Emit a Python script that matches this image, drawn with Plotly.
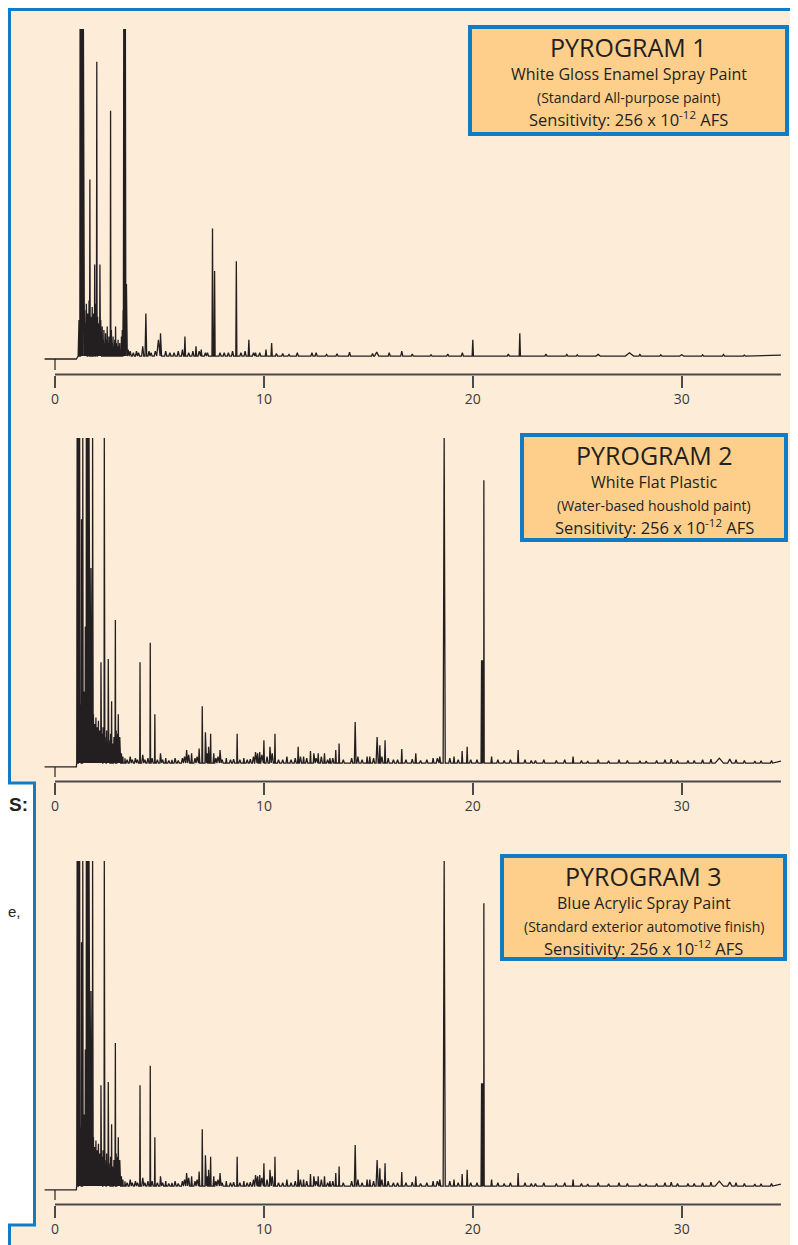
import plotly.graph_objects as go

# Page is drawn with the browser's 8px body margin, so the figure is 790x1237
# and every reference pixel position is shifted by OFF.
W, H = 790, 1237
OFF = 8

# ---------------- DATA ----------------
tick_vals = [0, 10, 20, 30]
tick_text = ["0", "10", "20", "30"]

# Pyrogram 1 - main peaks: time (min), height (% of full scale), half width (min)
p1_time = [1.20, 1.24, 1.28, 1.32, 1.36, 1.67, 1.90, 2.00, 2.15, 2.66, 3.29, 3.33, 3.37, 3.42, 4.35, 4.95, 5.05,
           6.22, 6.75, 7.00, 7.54, 7.64, 8.68, 9.28, 9.60, 10.10, 10.37, 11.6, 12.3, 12.5, 14.1,
           15.4, 16.0, 16.6, 17.1, 19.5, 20.0, 21.7, 22.25, 23.5, 26.0, 27.5, 30.0]
p1_height = [100, 100, 100, 100, 100, 54, 28, 90, 28, 75, 100, 100, 100, 22, 13, 5, 7,
             6, 3, 2, 39, 26, 29, 5, 1, 2, 4, 1, 1, 1, 1.2,
             1.2, 1, 1.5, 0.6, 1, 5, 0.6, 7, 0.6, 0.5, 1, 0.4]
p1_width = [0.02, 0.02, 0.02, 0.02, 0.02, 0.015, 0.015, 0.015, 0.015, 0.015, 0.02, 0.02, 0.02, 0.04, 0.04, 0.08, 0.05,
            0.03, 0.03, 0.03, 0.025, 0.025, 0.025, 0.03, 0.04, 0.03, 0.03, 0.05, 0.05, 0.05, 0.05,
            0.1, 0.05, 0.05, 0.05, 0.05, 0.03, 0.05, 0.03, 0.05, 0.1, 0.2, 0.1]
# Pyrogram 1 - noise / minor spikes: time, height
p1_noise_time = [1.12, 1.15, 1.19, 1.42, 1.46, 1.50, 1.53, 1.57, 1.60, 1.63, 1.71, 1.74, 1.78, 1.81,
                 1.85, 1.88, 1.94, 1.97, 2.04, 2.07, 2.10, 2.19, 2.22, 2.26, 2.30, 2.34, 2.38, 2.42,
                 2.46, 2.50, 2.54, 2.58, 2.62, 2.70, 2.74, 2.78, 2.82, 2.86, 2.90, 2.94, 2.98, 3.02,
                 3.06, 3.10, 3.14, 3.18, 3.22, 3.26, 3.50, 3.60, 3.75, 3.90, 4.00, 4.20, 4.50, 4.60,
                 4.80, 5.30, 5.50, 5.70, 5.90, 6.10, 6.40, 6.60, 6.90, 7.20, 7.30, 7.90, 8.10, 8.30,
                 8.50, 8.90, 9.10, 9.50, 9.80, 10.6, 10.9, 11.2, 13.0, 13.5, 15.2, 18.0, 18.8, 24.5,
                 25.0, 28.0, 29.0, 31.0, 32.0, 33.0]
p1_noise_height = [6, 11, 8, 14, 10, 16, 9, 13, 7, 17, 12, 8, 15, 10,
                   13, 7, 16, 9, 12, 6, 10, 11, 6, 9, 5, 8, 4, 7,
                   5, 9, 4, 6, 5, 8, 4, 6, 3, 5, 9, 4, 3, 5,
                   3, 4, 2, 6, 8, 14, 2, 1.5, 1, 1.5, 1, 3, 1.5, 1,
                   1.5, 1.5, 1, 1, 1.5, 2, 1, 1.5, 1.5, 1, 1, 1, 1, 1,
                   1.5, 1, 1.5, 1, 1, 0.8, 0.8, 0.5, 0.5, 0.7, 0.8, 0.4, 0.6, 0.5,
                   0.4, 0.5, 0.4, 0.4, 0.5, 0.3]
p1_pre_level = -0.9
p1_end_level = 0.3

# Pyrogram 2 - main peaks
p2_time = [1.06, 1.10, 1.14, 1.18, 1.27, 1.33, 1.45, 1.50, 1.54, 1.57, 1.63, 1.72, 1.80, 2.20, 2.36, 2.55,
           2.71, 2.89, 3.03, 3.10, 4.07, 4.56, 4.78, 5.05, 5.30, 5.60, 6.30, 6.54, 6.90, 7.05,
           7.20, 7.45, 7.60, 7.90, 8.20, 8.72, 9.04, 9.60, 9.70, 9.80, 10.0, 10.29, 10.53, 11.1,
           11.64, 11.9, 12.23, 12.39, 12.6, 12.9, 13.16, 13.44, 13.6, 14.37, 14.94, 15.07, 15.42, 15.55,
           15.8, 16.6, 17.27, 18.1, 18.42, 18.63, 19.1, 19.49, 19.73, 20.42, 20.46, 20.50, 20.53, 20.9, 22.17,
           23.0, 24.8, 25.5, 27.0, 28.3, 29.5, 30.3, 31.8, 32.3, 33.5]
p2_height = [100, 100, 100, 100, 75, 100, 42, 100, 100, 100, 100, 60, 100, 31, 100, 32,
             19, 44, 15, 8, 31, 37, 15, 3, 1.5, 1, 4, 3, 4.5, 17.5,
             9.5, 9, 3, 4, 1.5, 9, 1.5, 3.4, 3, 3.4, 7, 5, 9, 2,
             5, 2, 3.7, 3, 3, 3, 1.5, 4, 6, 12.6, 2, 2, 8, 5.5,
             7, 4.3, 3, 1.5, 2, 100, 2, 3.7, 5, 31.6, 31.6, 31.6, 87, 2, 4,
             0.8, 2, 0.6, 1, 0.6, 1.2, 0.8, 1.5, 1.2, 0.6]
p2_width = [0.02, 0.02, 0.02, 0.02, 0.01, 0.012, 0.012, 0.015, 0.015, 0.015, 0.012, 0.01, 0.012, 0.012, 0.012, 0.012,
            0.012, 0.012, 0.015, 0.02, 0.015, 0.015, 0.015, 0.03, 0.03, 0.03, 0.04, 0.03, 0.03, 0.02,
            0.02, 0.02, 0.03, 0.03, 0.03, 0.02, 0.03, 0.04, 0.03, 0.03, 0.025, 0.025, 0.02, 0.04,
            0.025, 0.03, 0.025, 0.025, 0.025, 0.03, 0.03, 0.025, 0.02, 0.04, 0.03, 0.03, 0.05, 0.03,
            0.025, 0.025, 0.03, 0.04, 0.04, 0.05, 0.03, 0.025, 0.025, 0.025, 0.025, 0.025, 0.015, 0.03, 0.025,
            0.05, 0.03, 0.05, 0.05, 0.05, 0.05, 0.05, 0.2, 0.1, 0.05]
p2_noise_time = [1.08, 1.12, 1.15, 1.21, 1.24, 1.30, 1.36, 1.39, 1.42, 1.48, 1.54, 1.60, 1.66, 1.69, 1.75,
                 1.77, 1.84, 1.87, 1.90, 1.93, 1.96, 1.99, 2.02, 2.05, 2.08, 2.11, 2.14, 2.17, 2.24,
                 2.27, 2.30, 2.33, 2.40, 2.43, 2.47, 2.50, 2.59, 2.62, 2.66, 2.75, 2.78, 2.82, 2.86,
                 2.93, 2.97, 3.00, 3.06, 3.13, 3.18, 3.25, 3.35, 3.45, 3.60, 3.70, 3.85, 3.95, 4.20,
                 4.30, 4.45, 4.65, 4.90, 5.15, 5.45, 5.75, 5.90, 6.10, 6.20, 6.40, 6.70, 6.80, 7.30,
                 7.35, 7.70, 7.80, 8.00, 8.40, 8.55, 8.85, 9.20, 9.35, 9.50, 9.90, 10.15, 10.4, 10.7,
                 10.9, 11.3, 11.5, 11.75, 12.05, 12.5, 12.75, 13.05, 13.3, 13.8, 14.2, 14.5, 14.7, 15.25,
                 15.65, 15.95, 16.2, 16.4, 16.8, 17.1, 17.5, 17.8, 18.3, 18.9, 19.3, 19.9, 20.2, 21.2,
                 21.5, 21.8, 22.5, 22.8, 23.4, 24.0, 24.4, 25.2, 26.0, 26.5, 27.4, 28.0, 28.8, 29.2,
                 29.8, 30.6, 31.0, 31.4, 32.6, 33.0, 33.8, 34.3]
p2_noise_height = [14, 9, 20, 12, 18, 10, 15, 22, 12, 17, 11, 14, 18, 9, 13,
                   8, 15, 9, 12, 7, 14, 8, 11, 6, 13, 7, 10, 5, 9,
                   5, 11, 4, 8, 5, 10, 4, 7, 4, 9, 6, 3, 8, 5,
                   10, 6, 9, 7, 4, 3, 2, 1.5, 1, 2, 1, 1.5, 1, 2.5,
                   1, 1.5, 1.5, 1, 1, 0.8, 1.5, 0.8, 1.5, 2, 2.5, 1.5, 2, 3,
                   5, 1.5, 2, 1, 1, 1.2, 1, 1, 1.2, 2, 2.5, 2, 3, 1,
                   1, 1, 1.5, 2, 1.5, 1.5, 2, 1, 1.5, 1, 1.5, 2, 1, 1.5,
                   2, 1.5, 1, 1, 1, 1.2, 0.8, 1, 1.5, 1.5, 1, 1, 1, 1,
                   0.8, 1, 1, 0.8, 1, 0.8, 1, 0.8, 1, 0.7, 0.8, 0.7, 0.8, 1,
                   0.8, 0.8, 1, 1.2, 1, 0.8, 0.7, 0.8]
p2_pre_level = -1.2
p2_end_level = 0.6

# Pyrogram 3 - trace is the same as pyrogram 2 in the source
p3_time, p3_height, p3_width = p2_time, p2_height, p2_width
p3_noise_time, p3_noise_height = p2_noise_time, p2_noise_height
p3_pre_level, p3_end_level = p2_pre_level, p2_end_level

# Box texts
box_titles = ["PYROGRAM 1", "PYROGRAM 2", "PYROGRAM 3"]
box_names = ["White Gloss Enamel Spray Paint", "White Flat Plastic", "Blue Acrylic Spray Paint"]
box_notes = ["(Standard All-purpose paint)", "(Water-based houshold paint)",
             "(Standard exterior automotive finish)"]
box_sens = "Sensitivity: 256 x 10<sup>-12</sup> AFS"

# ---------------- STYLE / LAYOUT ----------------
BG = "#fdedd8"
BOXFILL = "#fdcf8b"
BLUE = "#117cc3"
INK = "#231f20"
FONT = "Open Sans"


def fx(p):
    return (p - OFF) / W


def fy(p):
    return 1 - (p - OFF) / H


def build(times, heights, widths, ntimes, nheights, pre, end):
    pts = []
    for t, h, w in zip(times, heights, widths):
        pts += [(t - w, 0.0), (t, h), (t + w, 0.0)]
    for t, h in zip(ntimes, nheights):
        w = 0.012 if t < 3.4 else 0.05
        pts += [(t - w, 0.0), (t, h), (t + w, 0.0)]
    pts.sort(key=lambda p: p[0])
    xs = [-0.5, 1.02] + [p[0] for p in pts] + [34.75]
    ys = [pre, pre] + [p[1] for p in pts] + [end]
    return xs, ys


panels = [
    dict(data=(p1_time, p1_height, p1_width, p1_noise_time, p1_noise_height, p1_pre_level, p1_end_level),
         base=356, top=28, axis=374.5, box=(468, 25, 789, 136)),
    dict(data=(p2_time, p2_height, p2_width, p2_noise_time, p2_noise_height, p2_pre_level, p2_end_level),
         base=763, top=437, axis=781.5, box=(520, 433, 788, 542)),
    dict(data=(p3_time, p3_height, p3_width, p3_noise_time, p3_noise_height, p3_pre_level, p3_end_level),
         base=1186, top=860, axis=1204.5, box=(500, 854, 787, 961)),
]

fig = go.Figure()
shapes = []
annotations = []
layout = {}
xl, xr = 40, 782
t_per_px = 1 / 20.89
xrange = [-(55 - xl) * t_per_px, (xr - 55) * t_per_px]

for i, pn in enumerate(panels):
    sfx = "" if i == 0 else str(i + 1)
    xs, ys = build(*pn["data"])
    fig.add_trace(go.Scatter(x=xs, y=ys, mode="lines", xaxis="x" + sfx, yaxis="y" + sfx,
                             line=dict(color=INK, width=1.3), hoverinfo="skip", showlegend=False))
    scale = (pn["base"] - pn["top"]) / 100.0
    ymin = -(pn["axis"] - pn["base"]) / scale
    layout["xaxis" + sfx] = dict(domain=[fx(xl), fx(xr)], range=xrange, anchor="y" + sfx,
                                 showgrid=False, zeroline=False, showline=False,
                                 ticks="outside", ticklen=12, tickwidth=1.5, tickcolor="#4a4a4a",
                                 tickvals=tick_vals, ticktext=tick_text,
                                 tickfont=dict(family=FONT, size=14, color="#3a3a3a"))
    layout["yaxis" + sfx] = dict(domain=[fy(pn["axis"]), fy(pn["top"])], range=[ymin, 100.3],
                                 anchor="x" + sfx, visible=False)
    xref, yref = "x" + sfx, "y" + sfx
    # axis line
    shapes.append(dict(type="line", xref=xref, yref=yref + " domain", x0=0, x1=34.75, y0=0, y1=0,
                       line=dict(color="#4a4a4a", width=2)))
    # injection marker
    shapes.append(dict(type="line", xref=xref, yref=yref, x0=0, x1=0, y0=pn["data"][5], y1=-4.3,
                       line=dict(color=INK, width=1.2)))
    # legend box
    x0, y0, x1, y1 = pn["box"]
    shapes.append(dict(type="rect", xref="paper", yref="paper", x0=fx(x0 + 2), x1=fx(x1 - 2),
                       y0=fy(y1 - 2), y1=fy(y0 + 2), fillcolor=BOXFILL,
                       line=dict(color=BLUE, width=4), layer="above"))
    cx = (x0 + x1) / 2
    lines = [(box_titles[i], 25, 22), (box_names[i], 16, 48.5), (box_notes[i], 14, 72.5), (box_sens, 16.5, 93.5)]
    for txt, size, dy in lines:
        annotations.append(dict(text=txt, x=fx(cx), y=fy(y0 + dy), xref="paper", yref="paper",
                                xanchor="center", yanchor="middle", showarrow=False,
                                font=dict(family=FONT, size=size, color=INK)))

# page border (kept just inside the visible page area)
shapes.append(dict(type="line", xref="paper", yref="paper", x0=fx(8), x1=fx(800), y0=fy(9.5), y1=fy(9.5),
                   line=dict(color=BLUE, width=3)))
shapes.append(dict(type="line", xref="paper", yref="paper", x0=fx(9.5), x1=fx(9.5), y0=fy(8), y1=fy(1250),
                   line=dict(color=BLUE, width=3)))
# side panel
shapes.append(dict(type="rect", xref="paper", yref="paper", x0=fx(-10), x1=fx(34.5), y0=fy(1225), y1=fy(783),
                   fillcolor="white", line=dict(color=BLUE, width=3), layer="above"))
annotations.append(dict(text="<b>S:</b>", x=fx(30), y=fy(804), xref="paper", yref="paper",
                        xanchor="right", yanchor="middle", showarrow=False,
                        font=dict(family="Liberation Sans", size=19, color=INK)))
annotations.append(dict(text="e,", x=fx(23), y=fy(911), xref="paper", yref="paper",
                        xanchor="right", yanchor="middle", showarrow=False,
                        font=dict(family="Liberation Sans", size=15, color=INK)))

fig.update_layout(width=W, height=H, margin=dict(l=0, r=0, t=0, b=0),
                  paper_bgcolor=BG, plot_bgcolor="rgba(0,0,0,0)",
                  shapes=shapes, annotations=annotations, **layout)
fig.write_html("out.html")
